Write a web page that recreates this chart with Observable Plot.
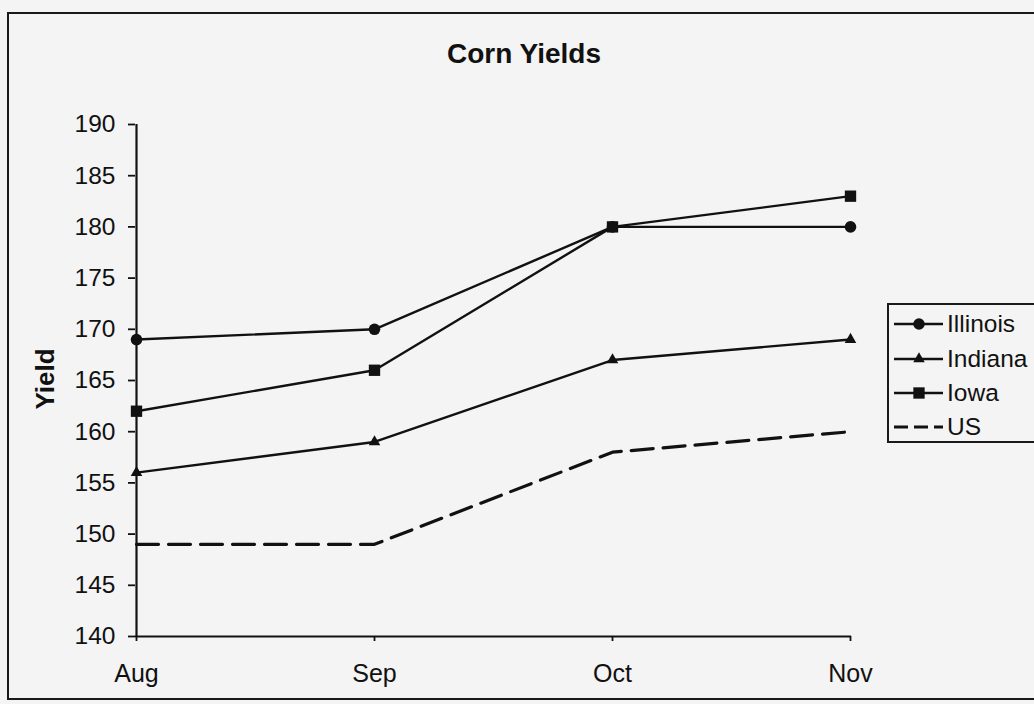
<!DOCTYPE html>
<html>
<head>
<meta charset="utf-8">
<script src="https://cdn.jsdelivr.net/npm/d3@7"></script>
<script src="https://cdn.jsdelivr.net/npm/@observablehq/plot@0.6"></script>
<style>
  html, body { margin: 0; padding: 0; overflow: hidden; background: #f4f4f4; }
  #wrap { position: relative; width: 1034px; height: 704px; background: #f4f4f4;
          font-family: "Liberation Sans", Arial, sans-serif; color: #111; overflow: hidden; }
  #frame { position: absolute; left: 7px; top: 12px; width: 1040px; height: 688px;
           border: 2px solid #1a1a1a; box-sizing: border-box; }
  #title { position: absolute; left: 0; width: 1048px; top: 38px; text-align: center;
           font-weight: bold; font-size: 28px; line-height: 32px; }
  #ylabel { position: absolute; left: 45px; top: 379px; font-weight: bold; font-size: 26px;
            transform: translate(-50%, -50%) rotate(-90deg); white-space: nowrap; }
  #legend { position: absolute; left: 887px; top: 303px; width: 170px; height: 140px;
            border: 2px solid #1a1a1a; box-sizing: border-box; }
  .item { position: absolute; left: 4px; height: 30px; display: flex; align-items: center; }
  .item span { font-size: 24.5px; margin-left: 4px; }
  #chart { position: absolute; left: 0; top: 0; }
</style>
</head>
<body>
<div id="wrap">
  <div id="frame"></div>
  <div id="title">Corn Yields</div>
  <div id="ylabel">Yield</div>
  <div id="chart"></div>
  <div id="legend"></div>
</div>
<script>
const months = ["Aug", "Sep", "Oct", "Nov"];
const illinois = [169, 170, 180, 180];
const indiana = [156, 159, 167, 169];
const iowa = [162, 166, 180, 183];
const us = [149, 149, 158, 160];
const yTicks = [140, 145, 150, 155, 160, 165, 170, 175, 180, 185, 190];

const seriesNames = ["Illinois", "Indiana", "Iowa", "US"];
const seriesValues = [illinois, indiana, iowa, us];
const seriesSymbols = ["circle", "triangle", "square", null];

const rows = seriesNames.map((name, i) =>
  months.map((m, j) => ({state: name, month: m, value: seriesValues[i][j]})));

const marks = [
  Plot.ruleX([months[0]], {stroke: "#111", strokeWidth: 2.2}),
  Plot.ruleY([140], {stroke: "#111", strokeWidth: 2.2}),
  Plot.axisY({ticks: yTicks, tickSize: 7, tickPadding: 13, label: null, fontSize: 24.5, strokeWidth: 1.8}),
  Plot.axisX({tickSize: 5, tickPadding: 23, label: null, fontSize: 25, strokeWidth: 1.8})
];
rows.forEach((data, i) => {
  const dashed = seriesNames[i] === "US";
  marks.push(Plot.line(data, {x: "month", y: "value", stroke: "#111",
    strokeWidth: dashed ? 3.2 : 2.4, strokeDasharray: dashed ? "22,10" : null}));
  if (seriesSymbols[i]) {
    const sym = seriesSymbols[i];
    const r = sym === "circle" ? 5.8 : sym === "square" ? 6.4 : 4.3;
    marks.push(Plot.dot(data, {x: "month", y: "value", symbol: sym, r, fill: "#111", stroke: "none"}));
  }
});

const chart = Plot.plot({
  width: 1034,
  height: 704,
  marginLeft: 135,
  marginRight: 183,
  marginTop: 124,
  marginBottom: 68,
  x: {type: "point", domain: months, padding: 0},
  y: {domain: [140, 190]},
  style: {background: "transparent", fontFamily: "'Liberation Sans', Arial, sans-serif", color: "#111", fontSize: "24px"},
  marks
});
document.getElementById("chart").appendChild(chart);

// legend
const legend = d3.select("#legend");
const tops = [4, 39, 73, 107];
seriesNames.forEach((name, i) => {
  const item = legend.append("div").attr("class", "item").style("top", tops[i] + "px");
  const svg = item.append("svg").attr("width", 50).attr("height", 30);
  const dashed = name === "US";
  svg.append("line").attr("x1", 1).attr("x2", 50).attr("y1", 15).attr("y2", 15)
    .attr("stroke", "#111").attr("stroke-width", dashed ? 3.2 : 2.4)
    .attr("stroke-dasharray", dashed ? "14,6" : null);
  const sym = seriesSymbols[i];
  if (sym) {
    const type = sym === "circle" ? d3.symbolCircle : sym === "square" ? d3.symbolSquare : d3.symbolTriangle;
    const r = sym === "circle" ? 5.8 : sym === "square" ? 6.4 : 4.3;
    svg.append("path").attr("d", d3.symbol(type, Math.PI * r * r)())
      .attr("transform", "translate(26,15)").attr("fill", "#111");
  }
  item.append("span").text(name);
});
</script>
</body>
</html>
